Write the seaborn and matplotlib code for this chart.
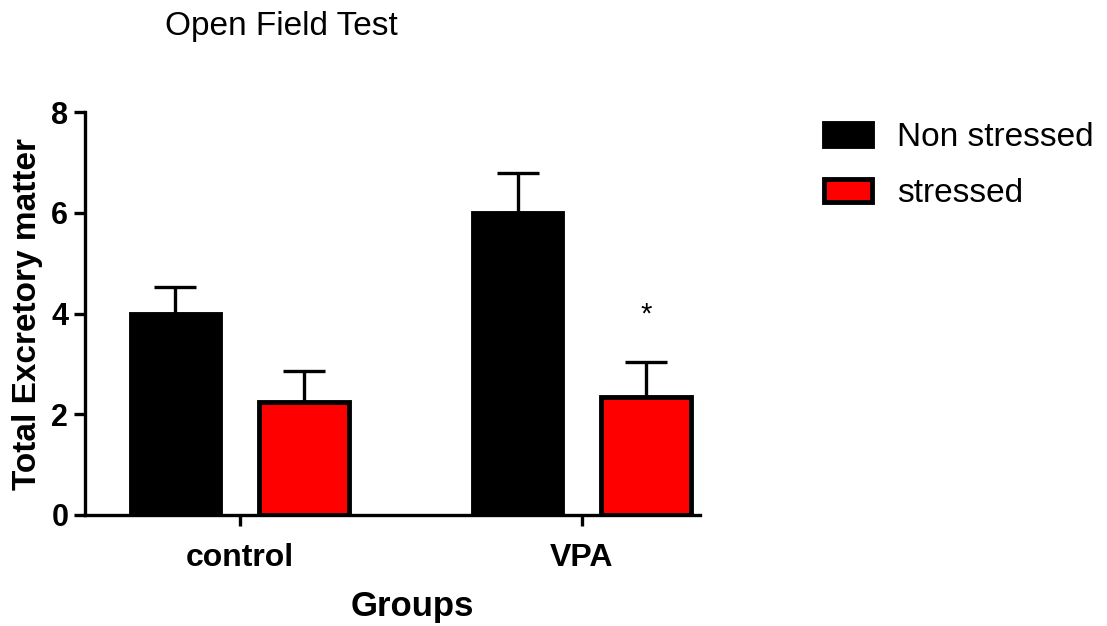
import numpy as np
import pandas as pd
import matplotlib
matplotlib.use("Agg")
import matplotlib.pyplot as plt
import seaborn as sns

# values
groups = ["control", "VPA"]
conditions = ["Non stressed", "stressed"]
non_stressed_mean = [4.0, 6.0]
non_stressed_err = [0.53, 0.78]
stressed_mean = [2.25, 2.35]
stressed_err = [0.6, 0.68]

df = pd.DataFrame({
    "Groups": groups * 2,
    "condition": [conditions[0]] * 2 + [conditions[1]] * 2,
    "value": non_stressed_mean + stressed_mean,
    "err": non_stressed_err + stressed_err,
})

sns.set_style("ticks")
plt.rcParams['font.family'] = ['Liberation Sans', 'DejaVu Sans']
plt.rcParams['text.color'] = 'black'
plt.rcParams['axes.labelcolor'] = 'black'
plt.rcParams['xtick.color'] = 'black'
plt.rcParams['ytick.color'] = 'black'
plt.rcParams['axes.edgecolor'] = 'black'

fig = plt.figure(figsize=(11.07, 6.26), dpi=100)
ax = fig.add_axes([85 / 1107, 1 - 515 / 626, 615 / 1107, 403 / 626])

sns.barplot(data=df, x="Groups", y="value", hue="condition", order=groups,
            hue_order=conditions, palette=["black", "#ff0000"], errorbar=None,
            width=0.75, gap=0.3, edgecolor="black", linewidth=3.5, saturation=1,
            legend=False, ax=ax, zorder=3)

# one-sided (upper) error bars on each bar
for bar, (_, row) in zip(ax.patches, df.iterrows()):
    xc = bar.get_x() + bar.get_width() / 2
    ax.errorbar(xc, row["value"], yerr=[[0], [row["err"]]], fmt="none",
                ecolor="black", elinewidth=2.4, capsize=15, capthick=2.4, zorder=2)

# significance star over VPA stressed
vpa_red = ax.patches[3]
ax.text(vpa_red.get_x() + vpa_red.get_width() / 2, 3.97, "*", ha="center",
        va="center", fontsize=21)

ax.set_ylim(0, 8)
ax.set_xlim(-0.452, 1.346)
ax.set_yticks([0, 2, 4, 6, 8])
sns.despine(ax=ax)
for s in ["left", "bottom"]:
    ax.spines[s].set_linewidth(2.4)
ax.tick_params(width=2.4, length=8, labelsize=22, pad=4)
for lab in ax.get_xticklabels() + ax.get_yticklabels():
    lab.set_fontweight("bold")
ax.tick_params(axis="x", labelsize=23, pad=12)

ax.set_ylabel("Total Excretory matter", fontsize=24, fontweight="bold")
ax.set_xlabel("Groups", fontsize=25, fontweight="bold")
ax.yaxis.set_label_coords(-0.068, 0.5)
ax.xaxis.set_label_coords(0.533, -0.185)

fig.text(165 / 1107, 1 - 26 / 626, "Open Field Test", fontsize=24,
         ha="left", va="center")

handles = [plt.Rectangle((0, 0), 1, 1, facecolor="black", edgecolor="black", linewidth=3.5),
           plt.Rectangle((0, 0), 1, 1, facecolor="#ff0000", edgecolor="black", linewidth=3.5)]
fig.legend(handles, conditions, loc="upper left",
           bbox_to_anchor=(824 / 1107, 1 - 122 / 626), frameon=False,
           fontsize=24, handlelength=1.45, handleheight=0.7,
           handletextpad=0.75, labelspacing=0.75, borderpad=0, borderaxespad=0)

fig.savefig("out.png", dpi=100)
